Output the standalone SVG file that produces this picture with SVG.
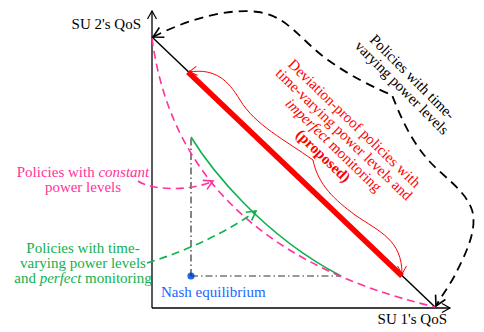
<svg xmlns="http://www.w3.org/2000/svg" width="484" height="332" viewBox="0 0 484 332">
<defs>
<style>
text{font-family:"Liberation Serif","Times New Roman",serif;font-size:15px}
.ax{fill:none;stroke:#000;stroke-width:1.3}
.blk{fill:none;stroke:#000;stroke-width:1.5}
.bd{fill:none;stroke:#000;stroke-width:1.8;stroke-dasharray:9,6}
.pd{fill:none;stroke:#ff3399;stroke-width:1.6;stroke-dasharray:8,5}
.gd{fill:none;stroke:#11b050;stroke-width:1.6;stroke-dasharray:8,5}
.dd{fill:none;stroke:#333;stroke-width:1.2;stroke-dasharray:7,3,1.5,3}
.rt{fill:none;stroke:#ff0000;stroke-width:1}
</style>
<marker id="ak" viewBox="-12 -7 14 14" markerWidth="14" markerHeight="14" refX="0" refY="0" orient="auto-start-reverse" markerUnits="userSpaceOnUse">
<path d="M-10,-5.5 L0,0 L-10,5.5" fill="none" stroke="#000" stroke-width="1.6"/>
</marker>
<marker id="ax" viewBox="-12 -7 14 14" markerWidth="14" markerHeight="14" refX="0" refY="0" orient="auto" markerUnits="userSpaceOnUse">
<path d="M-8,-4.5 L0,0 L-8,4.5" fill="none" stroke="#000" stroke-width="1.2"/>
</marker>
<marker id="ar" viewBox="-12 -7 14 14" markerWidth="14" markerHeight="14" refX="0" refY="0" orient="auto" markerUnits="userSpaceOnUse">
<path d="M-8,-4.5 L0,0 L-8,4.5" fill="none" stroke="#ff0000" stroke-width="1"/>
</marker>
<marker id="ap" viewBox="-12 -7 14 14" markerWidth="14" markerHeight="14" refX="0" refY="0" orient="auto" markerUnits="userSpaceOnUse">
<path d="M-9,-5 L0,0 L-9,5" fill="none" stroke="#ff3399" stroke-width="1.6"/>
</marker>
<marker id="ag" viewBox="-12 -7 14 14" markerWidth="14" markerHeight="14" refX="0" refY="0" orient="auto" markerUnits="userSpaceOnUse">
<path d="M-9,-5 L0,0 L-9,5" fill="none" stroke="#11b050" stroke-width="1.6"/>
</marker>
</defs>
<rect width="484" height="332" fill="#fff"/>

<g id="axes">
<path class="ax" d="M152,308 L152,11" marker-end="url(#ax)"/>
<path class="ax" d="M152,308 L450,308" marker-end="url(#ax)"/>
<text x="141" y="29" text-anchor="end">SU 2's QoS</text>
<text x="447" y="324" text-anchor="end">SU 1's QoS</text>
</g>

<g id="frontier">
<path class="blk" d="M152,37 L435,307"/>
</g>

<g id="nash">
<circle cx="191" cy="276" r="3.6" fill="#1a66ff"/>
<text x="161" y="297" fill="#1a66ff">Nash equilibrium</text>
</g>

<g id="perfect-region">
<path class="dd" d="M191,276 L191,137"/>
<path class="dd" d="M191,276 L341,276"/>
<path fill="none" stroke="#11b050" stroke-width="1.6" d="M191,137 C210,168 262,235 341,276"/>
</g>

<g id="constant-curve">
<path class="pd" d="M152,38 C168,160 245,262 435,307"/>
</g>

<g id="proposed">
<path fill="none" stroke="#ff0000" stroke-width="5.5" d="M188,72 L402,276"/>
</g>

<g id="label-proposed" fill="#ff0000">
<g transform="translate(351,127) rotate(44)">
<text x="0" y="0" text-anchor="middle">Deviation-proof policies with</text>
<text x="0" y="15" text-anchor="middle">time-varying power levels and</text>
<text x="0" y="30" text-anchor="middle"><tspan font-style="italic">imperfect</tspan> monitoring</text>
<text x="0" y="45" text-anchor="middle" font-weight="bold">(proposed)</text>
</g>
</g>

<g id="label-timevarying">
<g transform="translate(409,80.5) rotate(45)">
<text x="0" y="0" text-anchor="middle">Policies with time-</text>
<text x="0" y="15" text-anchor="middle">varying power levels</text>
</g>
</g>

<g id="label-constant" fill="#ff3399">
<text x="83" y="176.5" text-anchor="middle">Policies with <tspan font-style="italic">constant</tspan></text>
<text x="83" y="191.5" text-anchor="middle">power levels</text>
</g>

<g id="label-perfect" fill="#11b050">
<text x="83" y="253" text-anchor="middle">Policies with time-</text>
<text x="83" y="268" text-anchor="middle">varying power levels</text>
<text x="83" y="283" text-anchor="middle">and <tspan font-style="italic">perfect</tspan> monitoring</text>
</g>

<g id="connectors">
<path class="bd" d="M153,37 C190,18 230,8 258,12 C288,16 300,40 328,60 C350,76 375,88 392,95 C400,115 410,140 430,162 C445,178 465,190 472,210 C478,230 465,255 455,275 C448,288 440,298 436,306" marker-start="url(#ak)" marker-end="url(#ak)"/>
<path class="rt" d="M313,160 C285,140 255,125 240,100 C228,80 215,68 189,72" marker-end="url(#ar)"/>
<path class="rt" d="M313,160 C318,185 335,200 355,215 C380,232 402,240 402,274" marker-end="url(#ar)"/>
<path class="pd" d="M138,181 C150,190 190,192 213,181" marker-end="url(#ap)"/>
<path class="gd" d="M147,263 C190,250 230,230 256,211" marker-end="url(#ag)"/>
</g>
</svg>
